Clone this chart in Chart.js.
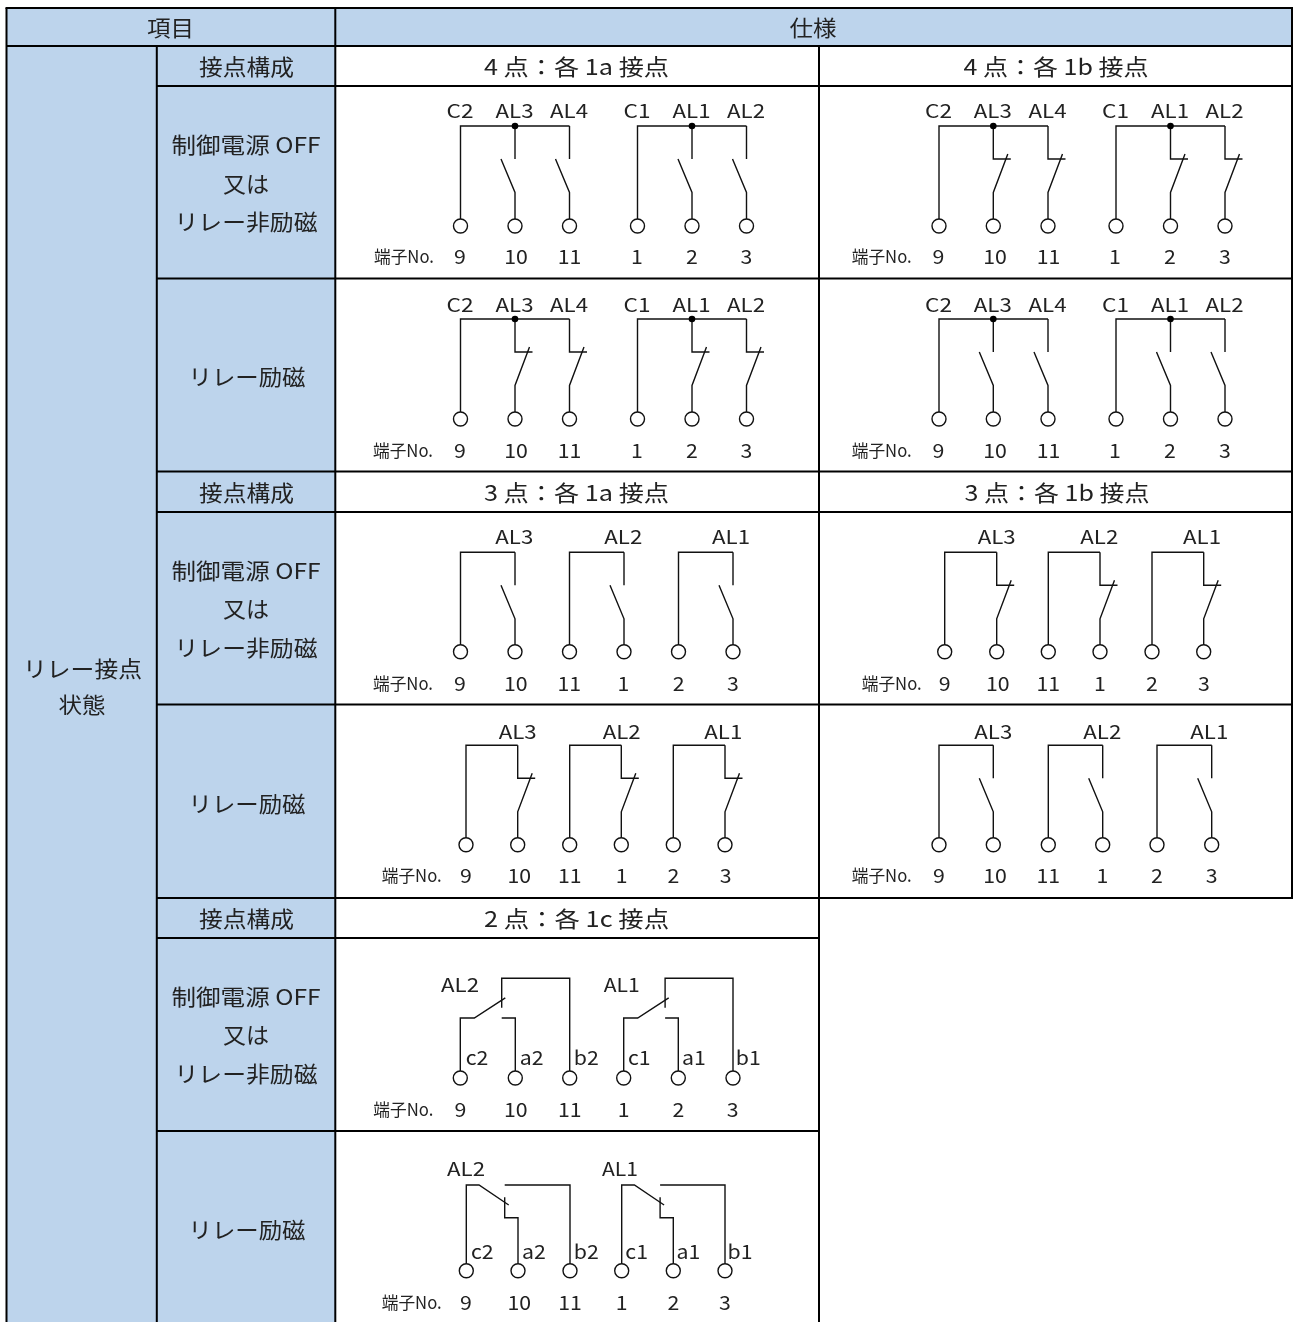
<!DOCTYPE html>
<html><head><meta charset="utf-8">
<script src="https://cdn.jsdelivr.net/npm/chart.js@4"></script>
<style>html,body{margin:0;padding:0;background:#fff}canvas{display:block}</style>
</head><body><canvas id="c" width="1293" height="1322"></canvas>
<script>
// ---- table grid (pixel-like data units)
const colX = [6.5, 156.8, 335.3, 819, 1292];
const rowY = [8, 46, 86, 278.5, 471.5, 512, 704.5, 898, 938, 1131, 1322];
// ---- text
const headerLabels = ["項目", "仕様"];
const configLabels = ["接点構成", "接点構成", "接点構成"];
const spec4 = ["4 点：各 1a 接点", "4 点：各 1b 接点"];
const spec3 = ["3 点：各 1a 接点", "3 点：各 1b 接点"];
const spec2 = ["2 点：各 1c 接点"];
const offLines = ["制御電源 OFF", "又は", "リレー非励磁"];
const onLine = "リレー励磁";
const sideLines = ["リレー接点", "状態"];
const termCaption = "端子No.";
const terms = ["9", "10", "11", "1", "2", "3"];
const names4 = ["C2", "AL3", "AL4", "C1", "AL1", "AL2"];
const names3 = ["AL3", "AL2", "AL1"];
const namesC = ["AL2", "AL1"];
const subC = ["c2", "a2", "b2", "c1", "a1", "b1"];
// ---- terminal x positions per panel
const p4L = [460.5, 515, 569.5, 637.5, 692, 746.5];
const p4R = [939, 993.3, 1048, 1116, 1170.5, 1225];
const p3aL = [460.5, 515, 569.5, 624, 678.5, 733];
const p3bR = [944.7, 996.7, 1048.3, 1100, 1152, 1203.7];
const p3bL = [466, 517.7, 569.7, 621.3, 673.3, 725];
const p3aR = [939, 993.3, 1048.3, 1102.7, 1157, 1211.7];
const pcOff = [460.3, 515.3, 569.7, 623.7, 678.3, 733];
const pcOn = [466.3, 518, 570, 621.7, 673.3, 725];
// ---- number label x positions per panel
const t4L = [460, 516, 569.5, 637, 692, 746.5];
const t4R = [938.5, 995, 1048.5, 1115, 1170, 1225];
const t3aL = [460, 515.7, 569.3, 623.3, 678.7, 733];
const t3bR = [944.7, 997.7, 1048.3, 1100, 1152, 1204];
const t3bL = [466, 519.3, 569.7, 621.7, 673.3, 725.7];
const t3aR = [939, 995, 1048.3, 1102.3, 1157, 1211.7];
// ---- name label x positions
const n3aL = [514.3, 623.3, 731];
const n3bR = [996.7, 1099.3, 1202];
const n3bL = [517.7, 621.7, 723.3];
const n3aR = [993.3, 1102.3, 1209.3];

const BLUE = "#BDD4EC", INK = "#000", TXT = "#222";
const datasets = [];
const circles = [], dots = [];
const texts = [];
function path(pts, lw, color) {
  datasets.push({ data: pts.map(p => ({ x: p[0], y: p[1] })), showLine: true, pointRadius: 0, borderWidth: lw,
    borderColor: color, borderJoinStyle: "miter", borderCapStyle: "butt", tension: 0, fill: false, order: 5 });
}
function rect(x0, y0, x1, y1, color) {
  datasets.push({ data: [[x0,y0],[x1,y0],[x1,y1],[x0,y1],[x0,y0]].map(p => ({ x: p[0], y: p[1] })), showLine: true, pointRadius: 0,
    borderWidth: 0, borderColor: color, backgroundColor: color, fill: "shape", order: 10 });
}
const wire = pts => path(pts, 1.4, "#111");
const text = (s, x, y, size, w) => texts.push({ s, x, y, size, w });

// contacts; y values: T top rail, C contact level, B blade foot, R ring centre
function contactA(x, T) { wire([[x, T], [x, T + 33]]); wire([[x - 14, T + 33], [x, T + 66.5], [x, T + 93]]); }
function contactB(x, T) { wire([[x, T], [x, T + 33], [x + 17.5, T + 33]]); wire([[x + 14.5, T + 28], [x, T + 66.5], [x, T + 93]]); }
function ring(x, y) { circles.push({ x, y }); }

function panel4(xs, tx, T, kind, nameY, numY, capX) {
  [[0, 1, 2], [3, 4, 5]].forEach(g => {
    wire([[xs[g[0]], T + 93], [xs[g[0]], T], [xs[g[2]], T]]);
    const fn = kind === "a" ? contactA : contactB;
    fn(xs[g[1]], T); fn(xs[g[2]], T);
    dots.push({ x: xs[g[1]], y: T });
  });
  xs.forEach((x, i) => { ring(x, T + 100); text(names4[i], x - 0.5, nameY, "lab", names4[i].length === 3 ? 38 : 27); text(terms[i], tx[i], numY, "lab"); });
  text(termCaption, capX, numY, "cap", 60);
}
function panel3(xs, tx, nx, T, kind, nameY, numY, capX) {
  [[0, 1], [2, 3], [4, 5]].forEach((g, k) => {
    wire([[xs[g[0]], T + 93], [xs[g[0]], T], [xs[g[1]], T]]);
    (kind === "a" ? contactA : contactB)(xs[g[1]], T);
    text(names3[k], nx[k], nameY, "lab", 38);
  });
  xs.forEach((x, i) => { ring(x, T + 99.5); text(terms[i], tx[i], numY, "lab"); });
  text(termCaption, capX, numY, "cap", 60);
}
function panelCoff(xs, T, ringY) {
  [0, 3].forEach(o => {
    const c = xs[o], a = xs[o + 1], b = xs[o + 2], m = c + 41.4;
    wire([[m, T + 29.5], [m, T], [b, T], [b, ringY - 7]]);
    wire([[c, ringY - 7], [c, T + 39.7], [c + 14, T + 39.7], [c + 45, T + 19.5]]);
    wire([[m, T + 39.7], [a, T + 39.7], [a, ringY - 7]]);
  });
  xs.forEach(x => ring(x, ringY));
}
function panelCon(xs, T, ringY) {
  [0, 3].forEach(o => {
    const c = xs[o], a = xs[o + 1], b = xs[o + 2], m = c + 38.4;
    wire([[m, T], [b, T], [b, ringY - 7]]);
    wire([[c, ringY - 7], [c, T], [c + 12.7, T], [c + 42.4, T + 20]]);
    wire([[m, T + 12.3], [m, T + 32.7], [a, T + 32.7], [a, ringY - 7]]);
  });
  xs.forEach(x => ring(x, ringY));
}

// fills
rect(colX[0], rowY[0], colX[4], rowY[1], BLUE);
rect(colX[0], rowY[1], colX[2], rowY[10], BLUE);
// grid
const G = 2;
path([[colX[0] - 1, rowY[0]], [colX[4] + 1, rowY[0]]], G, INK);
path([[colX[0], rowY[1]], [colX[4], rowY[1]]], G, INK);
[rowY[2], rowY[3], rowY[6]].forEach(y => path([[colX[1], y], [colX[4], y]], G, INK));
path([[colX[1], rowY[4]], [colX[4], rowY[4]]], G, INK);
path([[colX[1], rowY[5]], [colX[4], rowY[5]]], G, INK);
path([[colX[1], rowY[7]], [colX[4] + 1, rowY[7]]], G, INK);
[rowY[8], rowY[9]].forEach(y => path([[colX[1], y], [colX[3], y]], G, INK));
path([[colX[0], rowY[0]], [colX[0], rowY[10]]], G, INK);
path([[colX[1], rowY[1]], [colX[1], rowY[10]]], G, INK);
path([[colX[2], rowY[0]], [colX[2], rowY[10]]], G, INK);
path([[colX[3], rowY[1]], [colX[3], rowY[10]]], G, INK);
path([[colX[4], rowY[0]], [colX[4], rowY[7]]], G, INK);

// panels
panel4(p4L, t4L, 126, "a", 110.7, 256.5, 404);
panel4(p4R, t4R, 126, "b", 110.7, 256.5, 881.7);
panel4(p4L, t4L, 319, "b", 304.5, 450.5, 403);
panel4(p4R, t4R, 319, "a", 304.5, 450.5, 881.7);
panel3(p3aL, t3aL, n3aL, 552.3, "a", 536.7, 683.3, 403);
panel3(p3bR, t3bR, n3bR, 552.3, "b", 536.7, 683.3, 891.7);
panel3(p3bL, t3bL, n3bL, 745.3, "b", 731.7, 875.7, 411.7);
panel3(p3aR, t3aR, n3aR, 745.3, "a", 731.7, 875.7, 881.7);
panelCoff(pcOff, 978.3, 1078);
panelCon(pcOn, 1185, 1270.7);
pcOff.forEach((x, i) => { text(subC[i], [477, 531.7, 586.3, 639.3, 694, 748.3][i], 1058, "lab"); text(terms[i], [460.3, 515.7, 569.7, 623.7, 678.3, 732.7][i], 1109.3, "lab"); });
pcOn.forEach((x, i) => { text(subC[i], [482.3, 534, 586.3, 636.7, 688.3, 740][i], 1251.7, "lab"); text(terms[i], [466, 519.3, 570, 621.7, 673.3, 725][i], 1302.3, "lab"); });
text(namesC[0], 460, 985, "lab", 38); text(namesC[1], 621.7, 985, "lab", 36);
text(namesC[0], 466, 1169, "lab", 38); text(namesC[1], 620, 1169, "lab", 36);
text(termCaption, 403.3, 1109.3, "cap", 60); text(termCaption, 411.7, 1302.3, "cap", 60);

// table text
text(headerLabels[0], 170.5, 28, "big", 47); text(headerLabels[1], 813, 28, "big", 47);
[67, 493, 919].forEach((y, i) => text(configLabels[i], 246.5, y, "big", 95));
text(spec4[0], 576.5, 67, "big", 185); text(spec4[1], 1056, 67, "big", 185);
text(spec3[0], 576.5, 493, "big", 185); text(spec3[1], 1057, 493, "big", 185);
text(spec2[0], 576.5, 919, "big", 185);
[[145, 184, 222], [571, 609, 648], [997, 1035, 1074]].forEach(ys => {
  text(offLines[0], 246, ys[0], "big", 149); text(offLines[1], 246, ys[1], "big", 46); text(offLines[2], 246, ys[2], "big", 143);
});
[377, 804, 1230].forEach(y => text(onLine, 247, y, "big", 117));
text(sideLines[0], 82.5, 669, "big", 119); text(sideLines[1], 82, 705, "big", 47);

// rings and junction dots
datasets.unshift({ data: dots, showLine: false, pointRadius: 3.3, pointBackgroundColor: "#000", pointBorderWidth: 0, order: 0 });
datasets.unshift({ data: circles, showLine: false, pointRadius: 7, pointBackgroundColor: "#fff", pointBorderColor: "#111", pointBorderWidth: 1.4, order: 1 });

const FONT = { big: '22px "Noto Sans CJK JP"', lab: '19px "Noto Sans CJK JP"', cap: '17.5px "Noto Sans CJK JP"' };
const textPlugin = { id: "cellText", afterDatasetsDraw(chart) {
  const { ctx, scales } = chart;
  ctx.save(); ctx.fillStyle = TXT; ctx.textAlign = "center"; ctx.textBaseline = "middle";
  texts.forEach(t => {
    ctx.font = FONT[t.size];
    const sx = t.w ? t.w / ctx.measureText(t.s).width : (t.size === "lab" ? 1.12 : 1);
    ctx.save(); ctx.translate(scales.x.getPixelForValue(t.x), scales.y.getPixelForValue(t.y)); ctx.scale(sx, 1);
    ctx.fillText(t.s, 0, 0); ctx.restore();
  });
  ctx.restore();
} };

new Chart(document.getElementById("c"), {
  type: "scatter",
  data: { datasets },
  options: { responsive: false, animation: false, layout: { padding: 0, autoPadding: false },
    plugins: { legend: { display: false }, tooltip: { enabled: false }, title: { display: false } },
    scales: { x: { type: "linear", min: 0, max: 1293, display: false }, y: { type: "linear", min: 0, max: 1322, reverse: true, display: false } } },
  plugins: [textPlugin]
});
</script></body></html>
